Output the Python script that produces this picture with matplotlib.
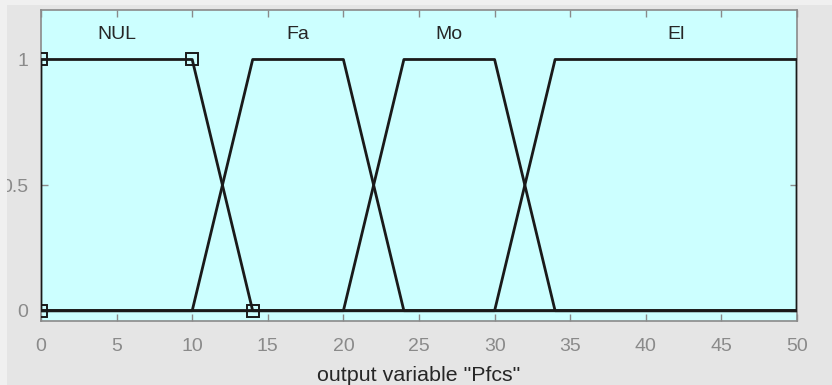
import matplotlib.pyplot as plt
from matplotlib.patches import Rectangle

# trapezoid membership functions (a, b, c, d) for output variable "Pfcs"
mf_names = ["NUL", "Fa", "Mo", "El"]
mf_params = [
    (0, 0, 10, 14),
    (10, 14, 20, 24),
    (20, 24, 30, 34),
    (30, 34, 50, 50),
]
label_x = [5, 17, 27, 42]
x_range = (0, 50)
selected = 0  # NUL is highlighted with square vertex markers

xticks = list(range(0, 51, 5))
yticks = [0, 0.5, 1]
yticklabels = ["0", "0.5", "1"]
xlabel = 'output variable "Pfcs"'

plt.rcParams["font.family"] = ["Liberation Sans", "DejaVu Sans"]

fig = plt.figure(figsize=(8.32, 3.85), dpi=100)
fig.patch.set_facecolor("#e5e5e5")

ax = fig.add_axes([41 / 832, 1 - 321 / 385, (797 - 41) / 832, (321 - 10) / 385])
ax.set_facecolor("#ccffff")

for name, (a, b, c, d), lx in zip(mf_names, mf_params, label_x):
    xs = [x_range[0], a, b, c, d, x_range[1]]
    ys = [0, 0, 1, 1, 0, 0]
    ax.plot(xs, ys, color="#1a1a1a", lw=2.0, solid_joinstyle="round", zorder=3)
    ax.text(lx, 1.1, name, ha="center", va="center", fontsize=14, color="#262626")

a, b, c, d = mf_params[selected]
ax.plot([a, a, c, d], [0, 1, 1, 0], ls="none", marker="s", ms=8, mfc="none",
        mec="#1a1a1a", mew=1.4, zorder=4)

ax.set_xlim(*x_range)
ax.set_ylim(-0.041, 1.197)
ax.set_xticks(xticks)
ax.set_yticks(yticks)
ax.set_yticklabels(yticklabels)
ax.tick_params(direction="in", top=True, right=True, length=5, width=1,
               colors="#8a8a8a", labelsize=14)
ax.tick_params(axis="x", pad=12)
ax.tick_params(axis="y", pad=9)
for sp in ax.spines.values():
    sp.set_color("#8a8a8a")
    sp.set_linewidth(1.2)

ax.set_xlabel(xlabel, fontsize=15.4, color="#262626", labelpad=8)

# lighter window border strips at top and left of the screenshot (drawn over the axes labels)
fig.add_artist(Rectangle((0, 1 - 5 / 385), 1, 5 / 385, transform=fig.transFigure,
                         facecolor="#f0f0f0", edgecolor="none", zorder=10))
fig.add_artist(Rectangle((0, 0), 7 / 832, 1, transform=fig.transFigure,
                         facecolor="#f0f0f0", edgecolor="none", zorder=10))

fig.savefig("out.png", dpi=100, facecolor=fig.get_facecolor())
